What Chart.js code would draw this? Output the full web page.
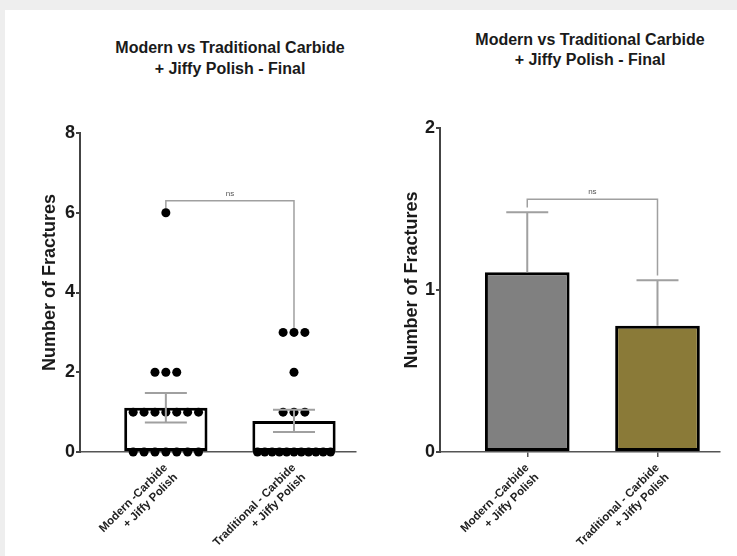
<!DOCTYPE html>
<html>
<head>
<meta charset="utf-8">
<script src="https://cdn.jsdelivr.net/npm/chart.js@4.4.1/dist/chart.umd.min.js"></script>
<style>
    html, body { margin: 0; padding: 0; width: 737px; height: 556px; overflow: hidden; background: #eeeeee; font-family: 'Liberation Sans', Arial, sans-serif; }
    #panel { position: absolute; left: 5px; top: 10px; right: 0; bottom: 0; background: #ffffff; }
    .title { position: absolute; width: 300px; text-align: center; font-weight: bold; font-size: 16px; line-height: 21px; color: #1a1a1a; }
    .wrap { position: absolute; top: 0; height: 556px; }
</style>
</head>
<body>
<div id="panel"></div>
<div class="title" style="left:80px; top:37px;">Modern vs Traditional Carbide<br>+ Jiffy Polish - Final</div>
<div class="title" style="left:440px; top:30px; line-height:20px;">Modern vs Traditional Carbide<br>+ Jiffy Polish - Final</div>
<div class="wrap" style="left:0; width:360px;"><canvas id="chart-left" width="360" height="556"></canvas></div>
<div class="wrap" style="left:360px; width:377px;"><canvas id="chart-right" width="377" height="556"></canvas></div>

<script>
// ---- data ----
const categories = [['Modern -Carbide', '+ Jiffy Polish'], ['Traditional - Carbide', '+ Jiffy Polish']];
const groupX = [0, 1];
const meanValues = [1.11, 0.78];
const semValues = [0.37, 0.28];
const modernPoints = [6, 2, 2, 2, 1, 1, 1, 1, 1, 1, 1, 0, 0, 0, 0, 0, 0, 0];
const traditionalPoints = [3, 3, 3, 2, 1, 1, 1, 0, 0, 0, 0, 0, 0, 0, 0, 0, 0, 0];
const leftTicks = [0, 2, 4, 6, 8];
const rightTicks = [0, 1, 2];
const leftBracket = [6.1, 6.3, 6.3, 3.1];
const rightBracket = [1.51, 1.56, 1.56, 1.09];
const barColors = ['#808080', '#8a7a38'];
const FONT = "'Liberation Sans', Arial, sans-serif";

// spread dots of the same value sideways, like a prism scatter column
function spreadPoints(values, center) {
    const rows = {};
    values.forEach(v => { (rows[v] = rows[v] || []).push(v); });
    const pts = [];
    Object.keys(rows).forEach(k => {
        const n = rows[k].length;
        const step = n > 8 ? 0.57 / (n - 1) : 0.085;
        rows[k].forEach((v, j) => pts.push({ x: center + (j - (n - 1) / 2) * step, y: v }));
    });
    return pts;
}

function bracketPoints(vals) {
    return [
        { x: groupX[0], y: vals[0] }, { x: groupX[0], y: vals[1] },
        { x: groupX[1], y: vals[2] }, { x: groupX[1], y: vals[3] }
    ];
}

// error bars + "ns" label
const errorBarPlugin = {
    id: 'errorBars',
    afterDatasetsDraw(chart, args, opts) {
        const { ctx, scales: { x, y } } = chart;
        ctx.save();
        ctx.strokeStyle = '#a0a0a0';
        ctx.lineWidth = 2;
        meanValues.forEach((m, i) => {
            const px = x.getPixelForValue(groupX[i]);
            const hi = y.getPixelForValue(m + semValues[i]);
            const lo = y.getPixelForValue(opts.lower ? m - semValues[i] : m);
            ctx.beginPath();
            ctx.moveTo(px, lo); ctx.lineTo(px, hi);
            ctx.moveTo(px - 21, hi); ctx.lineTo(px + 21, hi);
            if (opts.lower) { ctx.moveTo(px - 21, lo); ctx.lineTo(px + 21, lo); }
            ctx.stroke();
        });
        ctx.fillStyle = '#555';
        ctx.font = '8px ' + FONT;
        ctx.textAlign = 'center';
        ctx.textBaseline = 'bottom';
        ctx.fillText('ns', x.getPixelForValue((groupX[0] + groupX[1]) / 2), y.getPixelForValue(opts.bracketTop) - 3);
        ctx.restore();
    }
};

function buildChart(canvasId, o) {
    const datasets = [];
    if (o.points) {
        datasets.push({
            type: 'scatter', order: 0, clip: false,
            data: o.points, pointRadius: 4.5, pointBackgroundColor: '#000', pointBorderWidth: 0
        });
    }
    datasets.push({
        type: 'bar', order: 1, clip: false,
        data: meanValues.map((v, i) => ({ x: groupX[i], y: v })),
        backgroundColor: o.fills, borderColor: '#000', borderWidth: 3, borderSkipped: false,
        barPercentage: 0.65, categoryPercentage: 1
    });
    datasets.push({
        type: 'line', order: 2, clip: false,
        data: bracketPoints(o.bracket), borderColor: '#a0a0a0', borderWidth: 1.5,
        pointRadius: 0, fill: false, tension: 0
    });

    return new Chart(document.getElementById(canvasId).getContext('2d'), {
        type: 'bar',
        data: { datasets },
        options: {
            responsive: false, animation: false, events: [],
            layout: { padding: { top: o.top, left: 0, right: o.padRight, bottom: 0 } },
            plugins: {
                legend: { display: false }, tooltip: { enabled: false },
                errorBars: { lower: o.lower, bracketTop: o.bracket[1] }
            },
            scales: {
                x: {
                    type: 'linear', min: -0.67, max: 1.48, offset: false,
                    afterBuildTicks: s => { s.ticks = groupX.map(v => ({ value: v })); },
                    afterFit: s => { s.height = 104; s.paddingLeft = 0; s.paddingRight = 0; },
                    ticks: {
                        autoSkip: false, minRotation: 45, maxRotation: 45, padding: 4,
                        color: '#222', font: { size: 11.5, weight: 'bold', family: FONT },
                        callback: (v, i) => categories[i]
                    },
                    grid: { display: true, offset: false, drawOnChartArea: false, drawTicks: true, tickLength: 5, tickColor: o.xTickColor, lineWidth: 1.5 },
                    border: { display: true, color: '#555', width: 1.5 }
                },
                y: {
                    min: 0, max: o.yTicks[o.yTicks.length - 1],
                    afterBuildTicks: s => { s.ticks = o.yTicks.map(v => ({ value: v })); },
                    afterFit: s => { s.width = 80; s.paddingTop = 0; s.paddingBottom = 0; },
                    ticks: {
                        padding: 1, color: '#1a1a1a',
                        font: { size: 18, weight: 'bold', family: FONT }
                    },
                    grid: { display: true, drawOnChartArea: false, drawTicks: true, tickLength: 4, tickColor: '#444', lineWidth: 2 },
                    border: { display: true, color: '#444', width: 2 },
                    title: {
                        display: true, text: '    Number of Fractures', color: '#1a1a1a',
                        font: { size: 18, weight: 'bold', family: FONT },
                        padding: { top: o.titlePad, bottom: 0 }
                    }
                }
            }
        },
        plugins: [errorBarPlugin]
    });
}

buildChart('chart-left', {
    points: spreadPoints(modernPoints, groupX[0]).concat(spreadPoints(traditionalPoints, groupX[1])),
    fills: ['#ffffff', '#ffffff'], bracket: leftBracket, yTicks: leftTicks,
    lower: true, top: 133, padRight: 0, titlePad: 39, xTickColor: 'rgba(0,0,0,0)'
});

buildChart('chart-right', {
    points: null,
    fills: barColors, bracket: rightBracket, yTicks: rightTicks,
    lower: false, top: 128, padRight: 17, titlePad: 41, xTickColor: '#555'
});
</script>
</body>
</html>
